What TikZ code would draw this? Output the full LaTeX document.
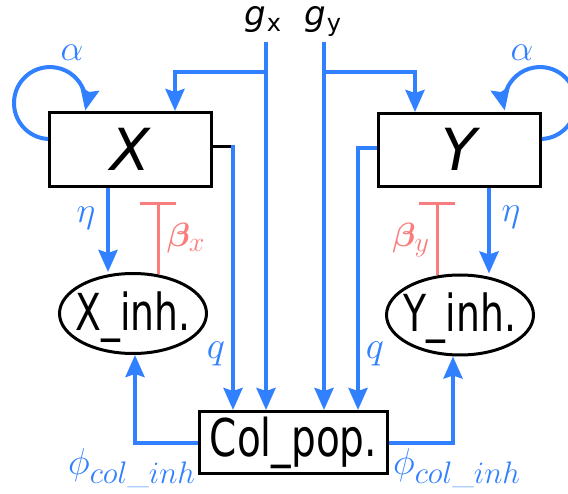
\documentclass[tikz,border=0pt]{standalone}
\usepackage{amsmath}
\usepackage{bm}
\usepackage{fontspec}
\setsansfont{DejaVu Sans}
\usetikzlibrary{arrows.meta,shapes.geometric}
\definecolor{cblue}{RGB}{48,128,255}
\definecolor{cred}{RGB}{250,125,125}
\newcommand{\bigmath}[2]{\scalebox{#1}{\Huge$#2$}}
\begin{document}
\begin{tikzpicture}[x=1pt,y=-1pt,
  tip/.tip={Stealth[length=22pt,width=19pt,inset=3pt]},
  flow/.style={draw=cblue,line width=4pt,-tip},
  inhib/.style={draw=cred,line width=3pt,-{Bar[width=36pt,line width=3pt]}},
  box/.style={draw=black,line width=3pt,fill=white,inner sep=0pt},
  oval/.style={draw=black,line width=3pt,fill=white,ellipse,inner sep=0pt,
    minimum width=147pt,minimum height=80pt,text height=37pt,text depth=3pt},
  lab/.style={inner sep=0pt,text=cblue},
  redlab/.style={inner sep=0pt,text=cred}]
\path[use as bounding box,clip] (0,0) rectangle (568,494);

% nodes
\node[box,minimum width=162pt,minimum height=74pt,text height=42pt,text depth=0pt] (X) at (130.5,149.5)
  {\fontsize{58}{58}\selectfont\sffamily\itshape X};
\node[box,minimum width=162pt,minimum height=73pt,text height=42pt,text depth=0pt] (Y) at (459.5,150)
  {\fontsize{58}{58}\selectfont\sffamily\itshape Y};
\node[oval] (Xinh) at (133,313.5)
  {\makebox[0pt]{\scalebox{0.74}[1]{\fontsize{51}{51}\selectfont\sffamily X\_inh.}}};
\node[oval] (Yinh) at (460,315)
  {\makebox[0pt]{\scalebox{0.74}[1]{\fontsize{51}{51}\selectfont\sffamily Y\_inh.}}};
\node[box,minimum width=188pt,minimum height=62pt,text height=38pt,text depth=10pt] (Col) at (293.5,442.5)
  {\makebox[0pt]{\scalebox{0.75}[1]{\fontsize{52}{52}\selectfont\sffamily Col\_pop.}}};

% inputs g_x, g_y
\node[inner sep=0pt,anchor=base west] (gx) at (244,26)
  {\fontsize{34}{34}\selectfont\sffamily\itshape g\kern1pt\raisebox{-6pt}{\fontsize{24}{24}\selectfont\upshape x}};
\node[inner sep=0pt,anchor=base west] (gy) at (304,26)
  {\fontsize{34}{34}\selectfont\sffamily\itshape g\kern1pt\raisebox{-6pt}{\fontsize{24}{24}\selectfont\upshape y}};
\coordinate (gxs) at (266,42);
\coordinate (gys) at (324,42);
\coordinate (gxb) at (266,72);
\coordinate (gyb) at (324,72);

\draw[flow] (gxs) -- (gxs |- Col.north);
\draw[flow] (gys) -- (gys |- Col.north);
\draw[flow] (gxb) -| (175,0 |- X.north);
\draw[flow] (gyb) -| (415,0 |- Y.north);

% X, Y to Col_pop
\draw[black,line width=3pt] ([yshift=2.5pt]X.east) -- (231,147);
\draw[flow] (233,145) -- (233,0 |- Col.north);
\draw[flow] ([yshift=2pt]Y.west) -| (358,0 |- Col.north);

% eta
\draw[flow] (108,0 |- X.south) -- (108,0 |- Xinh.north);
\draw[flow] (489,0 |- Y.south) -- (489,0 |- Yinh.north);

% beta inhibition
\draw[inhib] ([yshift=-2pt]158,0 |- Xinh.north) -- (158,202);
\draw[inhib] ([yshift=-2pt]437,0 |- Yinh.north) -- (437,202);

% phi
\draw[flow] (Col.west) -| (135,0 |- Xinh.south);
\draw[flow] (Col.east) -| (453,0 |- Yinh.south);

% alpha loops
\draw[flow] (48.1,139) arc[start angle=93,end angle=372,radius=36];
\draw[flow] (541.9,139) arc[start angle=87,end angle=-192,radius=36];

% labels
\node[lab] (a1) at (72,53) {\bigmath{1.45}{\alpha}};
\node[lab] (a2) at (522,53) {\bigmath{1.45}{\alpha}};
\node[lab] (e1) at (86,218) {\bigmath{1.45}{\eta}};
\node[lab] (e2) at (511,217) {\bigmath{1.45}{\eta}};
\node[lab] (q1) at (216,354) {\bigmath{1.55}{q}};
\node[lab] (q2) at (375,354) {\bigmath{1.55}{q}};
\node[lab] (p1) at (132,468) {\bigmath{1.5}{\phi_{col\_inh}}};
\node[lab] (p2) at (457,468) {\bigmath{1.5}{\phi_{col\_inh}}};
\node[redlab] (b1) at (186,238) {\bigmath{1.35}{\bm{\beta}_x}};
\node[redlab] (b2) at (411,240) {\bigmath{1.35}{\bm{\beta}_y}};
\end{tikzpicture}
\end{document}
